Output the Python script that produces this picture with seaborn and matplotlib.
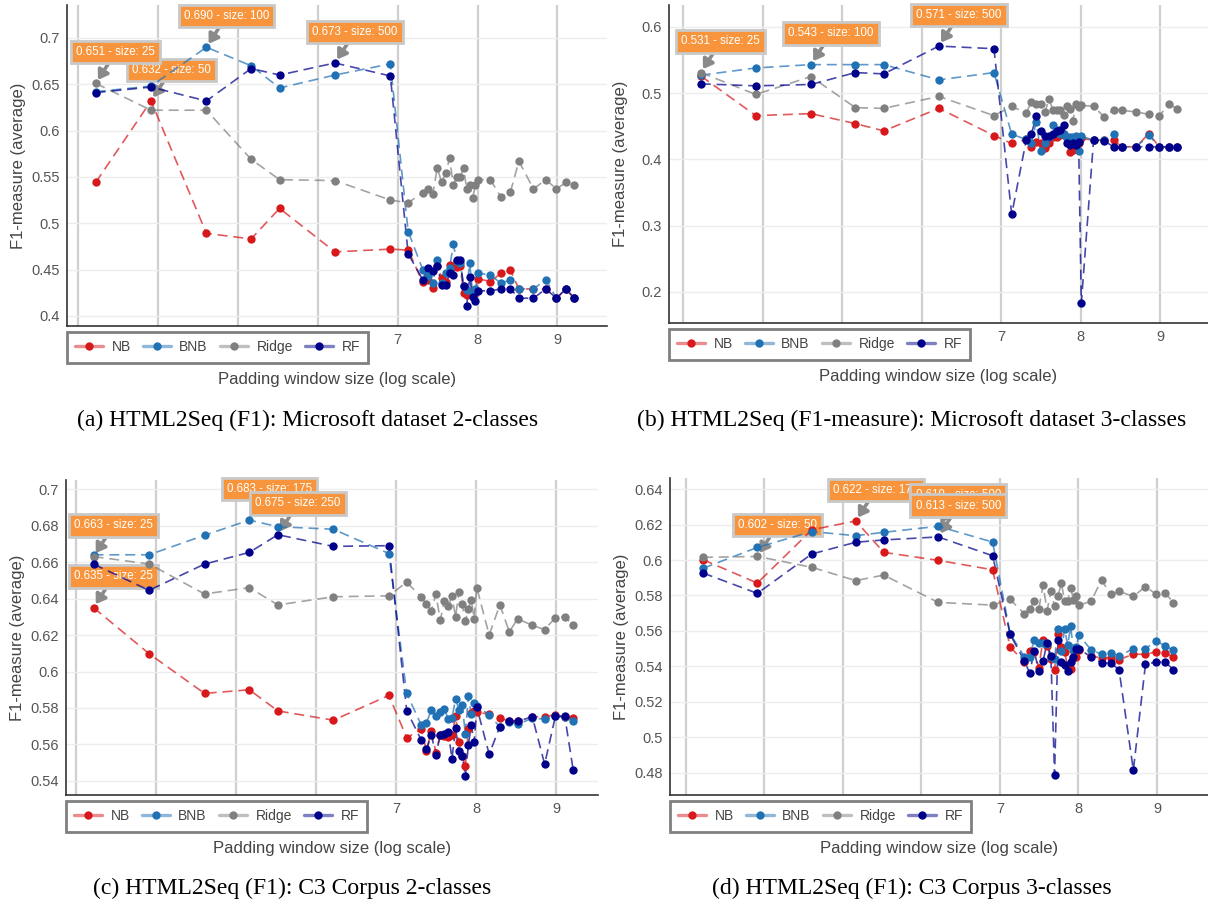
import numpy as np
import pandas as pd
import matplotlib
matplotlib.use("Agg")
import matplotlib.pyplot as plt
from matplotlib.lines import Line2D
import seaborn as sns

# ---------------- data ----------------
models = ["NB", "BNB", "Ridge", "RF"]
colors = ["#d7191c", "#2171b5", "#808080", "#00008b"]

sizes = [25, 50, 100, 175, 250, 500, 1000, 1250, 1500, 1600, 1700, 1800, 1900,
         2000, 2100, 2200, 2300, 2400, 2500, 2600, 2700, 2800, 2900, 3000,
         3500, 4000, 4500, 5000, 6000, 7000, 8000, 9000, 10000]

# (a) Microsoft 2-classes
a_nb = [0.544, 0.632, 0.489, 0.483, 0.516, 0.469, 0.472, 0.471, 0.436, 0.439, 0.430, 0.454, 0.441,
        0.437, 0.455, 0.454, 0.453, 0.454, 0.425, 0.422, 0.425, 0.427, 0.425, 0.440,
        0.437, 0.446, 0.449, 0.429, 0.429, 0.429, 0.419, 0.429, 0.419]
a_bnb = [0.642, 0.648, 0.690, 0.670, 0.646, 0.660, 0.672, 0.491, 0.450, 0.443, 0.435, 0.460, 0.435,
         0.446, 0.452, 0.477, 0.459, 0.457, 0.432, 0.428, 0.457, 0.425, 0.429, 0.446,
         0.444, 0.435, 0.439, 0.429, 0.429, 0.439, 0.419, 0.429, 0.419]
a_ridge = [0.651, 0.622, 0.622, 0.569, 0.547, 0.546, 0.525, 0.522, 0.533, 0.537, 0.531, 0.560, 0.544,
           0.554, 0.570, 0.541, 0.550, 0.550, 0.560, 0.537, 0.541, 0.527, 0.541, 0.547,
           0.547, 0.528, 0.534, 0.567, 0.537, 0.547, 0.537, 0.544, 0.541]
a_rf = [0.641, 0.647, 0.632, 0.667, 0.660, 0.673, 0.659, 0.467, 0.439, 0.452, 0.448, 0.454, 0.433,
        0.433, 0.446, 0.444, 0.460, 0.460, 0.432, 0.411, 0.442, 0.420, 0.416, 0.427,
        0.427, 0.429, 0.429, 0.419, 0.419, 0.429, 0.419, 0.429, 0.419]

# (b) Microsoft 3-classes
b_nb = [0.526, 0.466, 0.469, 0.454, 0.443, 0.477, 0.436, 0.424, 0.430, 0.419, 0.426, 0.424, 0.4165,
        0.425, 0.434, 0.434, 0.437, 0.439, 0.432, 0.4105, 0.414, 0.419, 0.424, 0.4315,
        0.429, 0.429, 0.429, 0.419, 0.419, 0.439, 0.419, 0.418, 0.419]
b_bnb = [0.527, 0.538, 0.543, 0.543, 0.543, 0.520, 0.531, 0.438, 0.430, 0.424, 0.4565, 0.4125, 0.425,
         0.434, 0.4515, 0.444, 0.439, 0.439, 0.4315, 0.434, 0.434, 0.435, 0.4125, 0.435,
         0.429, 0.429, 0.438, 0.419, 0.419, 0.4365, 0.419, 0.419, 0.419]
b_ridge = [0.531, 0.498, 0.525, 0.478, 0.477, 0.495, 0.466, 0.480, 0.470, 0.4865, 0.484, 0.484, 0.4715,
           0.4915, 0.474, 0.474, 0.474, 0.4665, 0.480, 0.4765, 0.458, 0.484, 0.479, 0.4815,
           0.480, 0.464, 0.475, 0.474, 0.4715, 0.468, 0.465, 0.484, 0.4765]
b_rf = [0.514, 0.511, 0.513, 0.531, 0.529, 0.571, 0.567, 0.317, 0.429, 0.438, 0.465, 0.4425, 0.435,
        0.435, 0.439, 0.4425, 0.445, 0.4515, 0.424, 0.4215, 0.424, 0.4215, 0.4265, 0.183,
        0.429, 0.428, 0.419, 0.419, 0.419, 0.419, 0.419, 0.419, 0.419]

# (c) C3 Corpus 2-classes
c_nb = [0.635, 0.6098, 0.588, 0.590, 0.5784, 0.5733, 0.5869, 0.5637, 0.5684, 0.5565, 0.5675, 0.5556, 0.5653,
        0.5644, 0.5642, 0.565, 0.5758, 0.5615, 0.5538, 0.5483, 0.5684, 0.5772, 0.5785, 0.5776,
        0.5767, 0.5743, 0.573, 0.573, 0.5752, 0.5752, 0.5763, 0.5749, 0.5743]
c_bnb = [0.664, 0.664, 0.6747, 0.683, 0.6794, 0.678, 0.6647, 0.588, 0.5706, 0.572, 0.5789, 0.5758, 0.5776,
         0.5794, 0.574, 0.5745, 0.585, 0.5789, 0.5817, 0.5657, 0.5864, 0.5767, 0.5826, 0.5813,
         0.5761, 0.5697, 0.5721, 0.5712, 0.5743, 0.574, 0.5754, 0.5752, 0.573]
c_ridge = [0.663, 0.659, 0.6425, 0.646, 0.6365, 0.641, 0.6415, 0.649, 0.6407, 0.637, 0.6333, 0.6425, 0.628,
           0.6389, 0.636, 0.6412, 0.630, 0.6436, 0.6368, 0.6275, 0.6343, 0.6394, 0.6289, 0.646,
           0.620, 0.6366, 0.6218, 0.6289, 0.6253, 0.623, 0.6295, 0.630, 0.6253]
c_rf = [0.6589, 0.6445, 0.6589, 0.6653, 0.675, 0.6686, 0.669, 0.5785, 0.5624, 0.5574, 0.5653, 0.5541, 0.5653,
        0.566, 0.5666, 0.5523, 0.5688, 0.5565, 0.5538, 0.5428, 0.5598, 0.5706, 0.5611, 0.5804,
        0.5547, 0.5697, 0.5727, 0.5727, 0.5752, 0.5492, 0.5754, 0.5754, 0.546]

# (d) C3 Corpus 3-classes
d_nb = [0.6002, 0.587, 0.617, 0.622, 0.6043, 0.5998, 0.5945, 0.551, 0.5425, 0.5486, 0.548, 0.5394, 0.5551,
        0.5514, 0.5444, 0.5379, 0.5585, 0.551, 0.5482, 0.5397, 0.5388, 0.545, 0.5454, 0.5491,
        0.5457, 0.545, 0.545, 0.5439, 0.5469, 0.5469, 0.5482, 0.5476, 0.5454]
d_bnb = [0.5953, 0.6071, 0.616, 0.6137, 0.6156, 0.619, 0.6101, 0.5585, 0.5454, 0.5454, 0.5551, 0.5532, 0.553,
         0.5525, 0.5454, 0.5444, 0.5613, 0.549, 0.5613, 0.5519, 0.5626, 0.5491, 0.551, 0.5576,
         0.5495, 0.5469, 0.5476, 0.546, 0.55, 0.55, 0.5544, 0.5516, 0.5491]
d_ridge = [0.6015, 0.602, 0.5959, 0.5884, 0.5915, 0.5761, 0.5746, 0.5778, 0.5696, 0.5724, 0.5767, 0.5724, 0.5859,
           0.5715, 0.5823, 0.5739, 0.5799, 0.587, 0.5767, 0.5767, 0.5844, 0.5777, 0.5799, 0.5746,
           0.5767, 0.5887, 0.5807, 0.5823, 0.5795, 0.585, 0.5808, 0.5816, 0.5758]
d_rf = [0.5927, 0.5812, 0.6034, 0.610, 0.6113, 0.613, 0.6024, 0.5581, 0.5431, 0.5365, 0.5486, 0.5375, 0.543,
        0.5534, 0.5457, 0.4791, 0.5547, 0.5425, 0.5407, 0.5375, 0.5425, 0.5454, 0.5499, 0.5499,
        0.5454, 0.542, 0.542, 0.5382, 0.4816, 0.5412, 0.5425, 0.5425, 0.5382]

# annotated maxima: (model, index into sizes)
a_notes = [("NB", 1), ("BNB", 2), ("Ridge", 0), ("RF", 5)]
b_notes = [("BNB", 2), ("Ridge", 0), ("RF", 5)]
c_notes = [("NB", 0), ("BNB", 3), ("Ridge", 0), ("RF", 4)]
d_notes = [("NB", 3), ("BNB", 5), ("Ridge", 1), ("RF", 5)]

captions = ["(a) HTML2Seq (F1): Microsoft dataset 2-classes",
            "(b) HTML2Seq (F1-measure): Microsoft dataset 3-classes",
            "(c) HTML2Seq (F1): C3 Corpus 2-classes",
            "(d) HTML2Seq (F1): C3 Corpus 3-classes"]

x_label = "Padding window size (log scale)"
y_label = "F1-measure (average)"

# ---------------- layout ----------------
W, H = 1208, 906
panels = [
    dict(series=[a_nb, a_bnb, a_ridge, a_rf], notes=a_notes, box=(67, 5, 607, 326),
         xlim=(2.86, 9.62), ylim=(0.389, 0.7356), yticks=np.arange(0.40, 0.7001, 0.05),
         cap=(308, 420)),
    dict(series=[b_nb, b_bnb, b_ridge, b_rf], notes=b_notes, box=(669, 5, 1208, 323),
         xlim=(2.82, 9.60), ylim=(0.153, 0.633), yticks=np.arange(0.2, 0.6001, 0.1),
         cap=(912, 420)),
    dict(series=[c_nb, c_bnb, c_ridge, c_rf], notes=c_notes, box=(66, 480, 598, 795),
         xlim=(2.875, 9.52), ylim=(0.5323, 0.705), yticks=np.arange(0.54, 0.7001, 0.02),
         cap=(292, 888)),
    dict(series=[d_nb, d_bnb, d_ridge, d_rf], notes=d_notes, box=(670, 478, 1208, 795),
         xlim=(2.80, 9.65), ylim=(0.4676, 0.6462), yticks=np.arange(0.48, 0.6401, 0.02),
         cap=(912, 888)),
]

sns.set_style("white")
plt.rcParams["font.family"] = ["Liberation Sans", "DejaVu Sans"]

fig = plt.figure(figsize=(W / 100, H / 100), dpi=100)
logx = np.log(np.array(sizes, dtype=float))

for pi, p in enumerate(panels):
    x0, y0, x1, y1 = p["box"]
    wpx, hpx = x1 - x0, y1 - y0
    ax = fig.add_axes([x0 / W, 1 - y1 / H, wpx / W, hpx / H])

    frames = []
    for m, vals in zip(models, p["series"]):
        frames.append(pd.DataFrame({"x": logx, "f1": vals, "model": m}))
    df = pd.concat(frames, ignore_index=True)
    pal = dict(zip(models, colors))

    for m in models:
        sub = df[df["model"] == m]
        sns.lineplot(data=sub, x="x", y="f1", color=pal[m], lw=1.2, alpha=0.72,
                     estimator=None, sort=False, legend=False, ax=ax, zorder=2.5,
                     dashes=False)
        ax.lines[-1].set_dashes((6, 3.5))
        sns.scatterplot(data=sub, x="x", y="f1", color=pal[m], s=36, linewidth=0,
                        legend=False, ax=ax, zorder=3)

    # annotations
    for m, idx in p["notes"]:
        v = p["series"][models.index(m)][idx]
        ax.annotate(f"{v:.3f} - size: {sizes[idx]}", xy=(logx[idx], v),
                    xytext=(14.5, 22.5), textcoords="offset points",
                    ha="center", va="center", color="white", fontsize=8.3,
                    bbox=dict(boxstyle="square,pad=0.45", fc="#f8953c", ec="#c9c9c9", lw=2),
                    arrowprops=dict(arrowstyle="-|>,head_length=0.45,head_width=0.3",
                                    color="#8a8a8a", lw=2.6, shrinkA=0, shrinkB=3,
                                    mutation_scale=12),
                    zorder=2, annotation_clip=False)

    ax.set_xlim(*p["xlim"])
    ax.set_ylim(*p["ylim"])
    ax.set_xticks(range(3, 10))
    ax.set_xticklabels([str(t) for t in range(3, 10)])
    yt = [round(v, 2) for v in p["yticks"]]
    ax.set_yticks(yt)
    ax.set_yticklabels([f"{v:g}" for v in yt])
    ax.tick_params(length=0, labelsize=10.5, labelcolor="#555555", pad=5)

    ax.grid(axis="x", color="#cfcfcf", lw=1.6)
    ax.grid(axis="y", color="#ededed", lw=1.0)
    ax.set_axisbelow(True)
    for s in ["top", "right"]:
        ax.spines[s].set_visible(False)
    for s in ["left", "bottom"]:
        ax.spines[s].set_color("#333333")
        ax.spines[s].set_linewidth(1.2)

    ax.set_xlabel(x_label, fontsize=12, color="#444444")
    ax.xaxis.set_label_coords(0.5, -46 / hpx)
    ax.set_ylabel(y_label, fontsize=12, color="#444444")
    ax.yaxis.set_label_coords(-41 / wpx, 0.5)

    handles = [Line2D([0], [0], color=matplotlib.colors.to_rgba(c, 0.5), lw=2.4,
                      marker="o", markersize=6, markerfacecolor=c, markeredgewidth=0)
               for c in colors]
    leg = ax.legend(handles, models, loc="upper left", bbox_to_anchor=(0, -6 / hpx),
                    ncol=4, frameon=True, fancybox=False, framealpha=1, fontsize=10,
                    borderaxespad=0, borderpad=0.6, handlelength=2.0,
                    handletextpad=0.6, columnspacing=0.9, labelcolor="#444444")
    leg.get_frame().set_edgecolor("#808080")
    leg.get_frame().set_linewidth(2)
    leg.set_zorder(10)

    cx, cy = p["cap"]
    fig.text(cx / W, 1 - cy / H, captions[pi], ha="center", va="center",
             fontsize=17, family="Liberation Serif", color="black")

fig.savefig("out.png", dpi=100)
